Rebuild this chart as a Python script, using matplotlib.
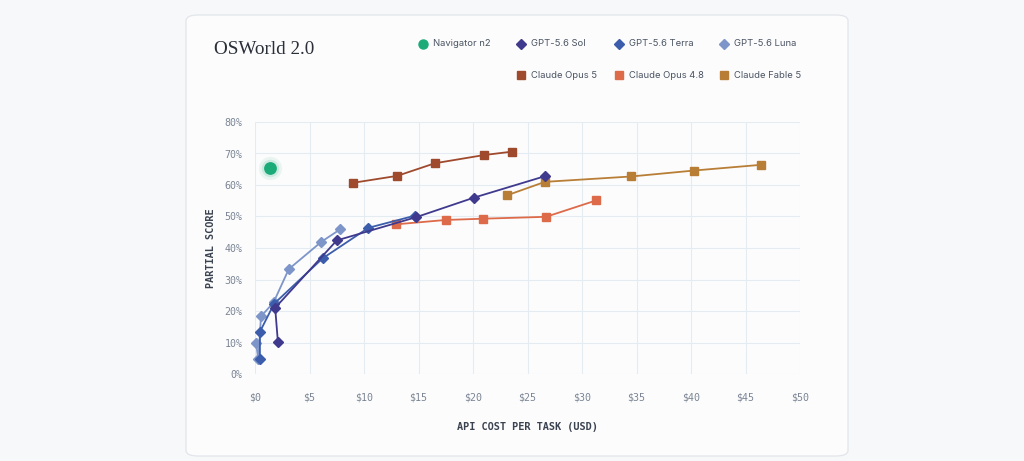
import matplotlib
matplotlib.use("Agg")
import matplotlib.pyplot as plt
from matplotlib.patches import FancyBboxPatch
from matplotlib.lines import Line2D
from matplotlib.ticker import FuncFormatter

# ---- data ----
nav_x = [1.4]
nav_y = [65.4]

sol_x = [2.1, 1.85, 7.5, 14.8, 20.1, 26.6]
sol_y = [10.2, 21.0, 42.4, 49.8, 56.0, 62.8]

terra_x = [0.45, 0.45, 1.75, 6.2, 10.4, 14.7]
terra_y = [4.7, 13.4, 22.3, 36.7, 46.4, 50.3]

luna_x = [0.1, 0.3, 0.55, 1.7, 3.1, 6.1, 7.8]
luna_y = [9.8, 4.7, 18.3, 22.7, 33.3, 42.0, 45.9]

opus5_x = [9.0, 13.05, 16.5, 21.0, 23.6]
opus5_y = [60.7, 62.9, 66.9, 69.5, 70.6]

opus48_x = [12.9, 17.5, 20.9, 26.7, 31.3]
opus48_y = [47.5, 48.9, 49.3, 49.9, 55.1]

fable_x = [23.1, 26.6, 34.5, 40.3, 46.4]
fable_y = [56.7, 61.0, 62.7, 64.6, 66.4]

colors = {"Navigator n2": "#1aab78", "GPT-5.6 Sol": "#3f3a8d", "GPT-5.6 Terra": "#3c5dab",
          "GPT-5.6 Luna": "#7d95c8", "Claude Opus 5": "#9f4a2d", "Claude Opus 4.8": "#dd6a49",
          "Claude Fable 5": "#b97e36"}

x_ticks = [0, 5, 10, 15, 20, 25, 30, 35, 40, 45, 50]
y_ticks = [0, 10, 20, 30, 40, 50, 60, 70, 80]

# ---- figure ----
W, H = 1024, 461
fig = plt.figure(figsize=(W / 100, H / 100), dpi=100)
fig.patch.set_facecolor("#f7f8fa")

card = FancyBboxPatch((186 / W, (H - 456) / H), (848 - 186) / W, (456 - 15) / H,
                      boxstyle="round,pad=0,rounding_size=0.012",
                      transform=fig.transFigure, facecolor="#fcfcfd",
                      edgecolor="#e2e5ea", linewidth=0.9, zorder=-5)
fig.patches.append(card)

ax = fig.add_axes([255 / W, (H - 374) / H, (800 - 255) / W, (374 - 122) / H])
ax.set_zorder(2)
ax.set_facecolor("none")
ax.set_xlim(0, 50)
ax.set_ylim(0, 80)
ax.set_xticks(x_ticks)
ax.set_yticks(y_ticks)
ax.xaxis.set_major_formatter(FuncFormatter(lambda v, p: f"${int(v)}"))
ax.yaxis.set_major_formatter(FuncFormatter(lambda v, p: f"{int(v)}%"))
ax.grid(True, color="#e4ebf1", linewidth=0.8)
ax.set_axisbelow(True)
for s in ax.spines.values():
    s.set_visible(False)
ax.tick_params(length=0, labelsize=7.2, labelcolor="#7a8594")
ax.tick_params(axis="x", pad=13)
ax.tick_params(axis="y", pad=9)
for lab in ax.get_xticklabels() + ax.get_yticklabels():
    lab.set_fontfamily("DejaVu Sans Mono")

ax.set_xlabel("API COST PER TASK (USD)", fontfamily="DejaVu Sans Mono", fontsize=7.4,
              fontweight="bold", color="#3b4350", labelpad=14)
ax.set_ylabel("PARTIAL SCORE", fontfamily="DejaVu Sans Mono", fontsize=7.4,
              fontweight="bold", color="#3b4350", labelpad=6)

lw = 1.3
ax.plot(luna_x, luna_y, color=colors["GPT-5.6 Luna"], lw=lw, marker="D", ms=5.5, zorder=3, clip_on=False)
ax.plot(terra_x, terra_y, color=colors["GPT-5.6 Terra"], lw=lw, marker="D", ms=5.5, zorder=4, clip_on=False)
ax.plot(sol_x, sol_y, color=colors["GPT-5.6 Sol"], lw=lw, marker="D", ms=5.5, zorder=5, clip_on=False)
ax.plot(opus5_x, opus5_y, color=colors["Claude Opus 5"], lw=lw, marker="s", ms=5.8, zorder=3)
ax.plot(opus48_x, opus48_y, color=colors["Claude Opus 4.8"], lw=lw, marker="s", ms=5.8, zorder=3)
ax.plot(fable_x, fable_y, color=colors["Claude Fable 5"], lw=lw, marker="s", ms=5.8, zorder=3)
# glow + point for Navigator
ax.scatter(nav_x, nav_y, s=280, color=colors["Navigator n2"], alpha=0.08, linewidths=0, zorder=5)
ax.scatter(nav_x, nav_y, s=160, color=colors["Navigator n2"], alpha=0.14, linewidths=0, zorder=5)
ax.scatter(nav_x, nav_y, s=85, color=colors["Navigator n2"], linewidths=0, zorder=6)

# ---- title ----
fig.text(214 / W, (H - 49) / H, "OSWorld 2.0", fontfamily="Liberation Serif",
         fontsize=13.8, color="#2a2f38", va="center", ha="left")

# ---- legend (manual) ----
legend_items = [
    ("Navigator n2", "o", 423, 44),
    ("GPT-5.6 Sol", "D", 521, 44),
    ("GPT-5.6 Terra", "D", 619, 44),
    ("GPT-5.6 Luna", "D", 724, 44),
    ("Claude Opus 5", "s", 521, 75),
    ("Claude Opus 4.8", "s", 619, 75),
    ("Claude Fable 5", "s", 724, 75),
]
for name, mk, px, py in legend_items:
    ms = {"o": 6.5, "D": 5, "s": 6}[mk]
    fig.add_artist(Line2D([px / W], [(H - py) / H], marker=mk, ms=ms, color=colors[name],
                          linestyle="none", transform=fig.transFigure))
    fig.text((px + 10) / W, (H - py) / H, name, fontfamily="Inter", fontsize=6.8,
             color="#4b5563", va="center", ha="left")

fig.savefig("out.png", dpi=100, facecolor=fig.get_facecolor())
